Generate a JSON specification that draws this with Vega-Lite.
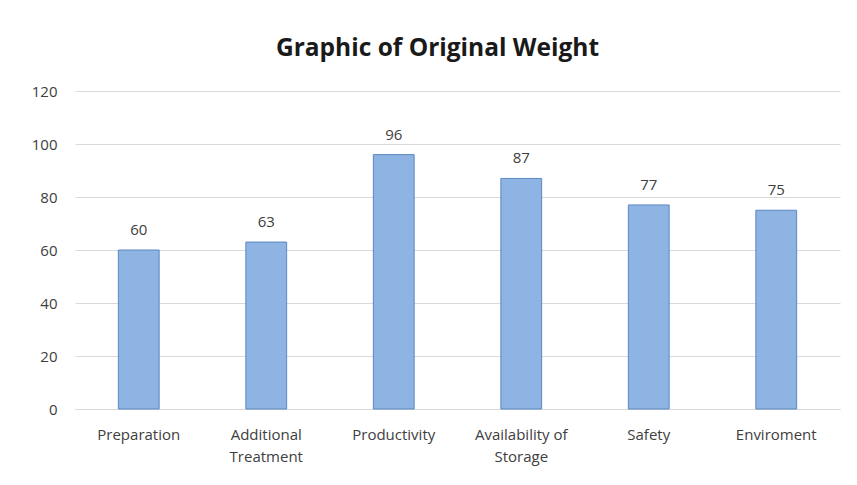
{
  "$schema": "https://vega.github.io/schema/vega-lite/v6.json",
  "autosize": {"type": "none"},
  "width": 765,
  "height": 318,
  "padding": {"left": 75, "top": 91, "right": 17, "bottom": 76},
  "background": "white",
  "title": {
    "text": "Graphic of Original Weight",
    "font": "Open Sans",
    "fontSize": 24.5,
    "fontWeight": "bold",
    "color": "#1a1a1a",
    "anchor": "middle",
    "dx": -20,
    "offset": 23
  },
  "data": {
    "values": [
      {"criterion": "Preparation", "weight": 60},
      {"criterion": "Additional Treatment", "weight": 63},
      {"criterion": "Productivity", "weight": 96},
      {"criterion": "Availability of Storage", "weight": 87},
      {"criterion": "Safety", "weight": 77},
      {"criterion": "Enviroment", "weight": 75}
    ]
  },
  "encoding": {
    "x": {
      "field": "criterion",
      "type": "nominal",
      "sort": null,
      "scale": {"paddingInner": 0.68, "paddingOuter": 0.34},
      "axis": {
        "title": null,
        "labelAngle": 0,
        "labelFont": "Open Sans",
        "labelFontSize": 15,
        "labelColor": "#404040",
        "labelPadding": 18,
        "labelLineHeight": 22,
        "ticks": false,
        "domainColor": "#d9d9d9",
        "labelExpr": "datum.label == 'Additional Treatment' ? ['Additional','Treatment'] : datum.label == 'Availability of Storage' ? ['Availability of','Storage'] : datum.label"
      }
    },
    "y": {
      "field": "weight",
      "type": "quantitative",
      "scale": {"domain": [0, 120]},
      "axis": {
        "title": null,
        "values": [0, 20, 40, 60, 80, 100, 120],
        "labelFont": "Open Sans",
        "labelFontSize": 15,
        "labelColor": "#404040",
        "labelPadding": 18,
        "ticks": false,
        "domain": false,
        "gridColor": "#d9d9d9",
        "gridWidth": 1.2
      }
    }
  },
  "layer": [
    {
      "mark": {"type": "bar", "fill": "#8db4e2", "stroke": "#5b87c2", "strokeWidth": 1}
    },
    {
      "mark": {"type": "text", "baseline": "alphabetic", "dy": -15, "font": "Open Sans", "fontSize": 15, "color": "#404040"},
      "encoding": {"text": {"field": "weight", "type": "quantitative"}}
    }
  ],
  "config": {"view": {"stroke": null}}
}
